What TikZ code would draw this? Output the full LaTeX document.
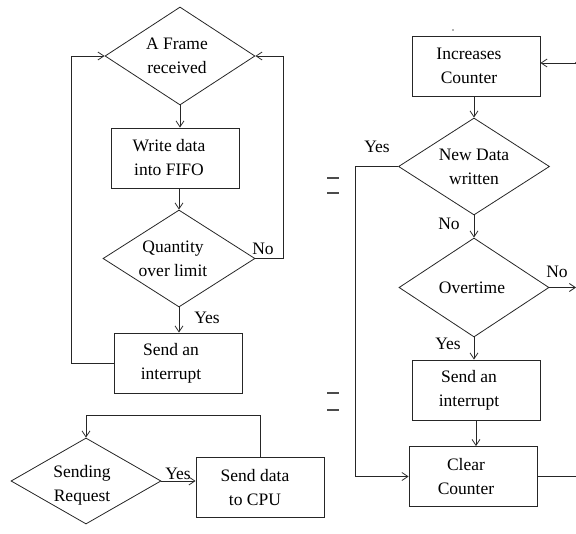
\documentclass[tikz,border=0pt]{standalone}
\usepackage{fontspec}
\setmainfont{Liberation Serif}
\usetikzlibrary{shapes.geometric,arrows.meta}
\begin{document}
\begin{tikzpicture}[x=1pt,y=-1pt,line width=0.8pt,color=black!85,
  txt/.style={align=center,text=black,font=\fontsize{17.5}{24}\selectfont,inner sep=0pt},
  box/.style={draw,rectangle,minimum width=128pt,minimum height=60pt,inner sep=0pt},
  dec/.style={draw,diamond,inner sep=0pt},
  arr/.style={-{Straight Barb[length=6pt,width=8pt]}},
  tick/.style={draw=black!70,line width=1.2pt}]
\useasboundingbox (0,0) rectangle (576,534);
\coordinate (rim) at (576,0);
\coordinate (yx) at (355,0);

% receive loop
\node[dec,minimum width=150pt,minimum height=98pt,
  label={[txt,xshift=-3pt]center:A Frame\\received}] (f1) at (180,56) {};
\node[box,label={[txt,xshift=-6pt]center:Write data\\into FIFO}] (w) at (175,158) {};
\node[dec,minimum width=152pt,minimum height=97pt,
  label={[txt,xshift=-6pt]center:Quantity\\over limit}] (q) at (179,258.5) {};
\node[box,label={[txt,xshift=-7pt]center:Send an\\interrupt}] (i1) at (178,363) {};

\draw[arr] (f1.south) -- (f1.south |- w.north);
\draw[arr] (q.north |- w.south) -- (q.north);
\draw[arr] (q.south) -- (q.south |- i1.north);
\draw[arr] (q.east) -- ++(28,0) |- (f1.east);
\draw[arr] (i1.west) -- ++(-42,0) |- (f1.west);
\node[txt] (noq) at (263,249) {No};
\node[txt] (yesq) at (207,318) {Yes};

% send loop
\node[dec,minimum width=150pt,minimum height=86pt,
  label={[txt,xshift=-4pt,yshift=-4pt]center:Sending\\Request}] (s) at (86,481) {};
\node[box,label={[txt,xshift=-5pt]center:Send data\\to CPU}] (cpu) at (260,487.5) {};
\draw[arr] (s.east) -- (s.east -| cpu.west);
\draw[arr] (cpu.north) -- ++(0,-42) -| (s.north);
\node[txt] (yess) at (178,474) {Yes};

% timeout counter
\node[box,label={[txt,xshift=-7pt]center:Increases\\Counter}] (inc) at (476,66) {};
\node[dec,minimum width=151pt,minimum height=97pt,
  label={[txt]center:New Data\\written}] (nd) at (474,166.5) {};
\node[dec,minimum width=150pt,minimum height=99pt,
  label={[txt,xshift=-2pt]center:Overtime}] (ov) at (474,287.5) {};
\node[box,label={[txt,xshift=-7pt]center:Send an\\interrupt}] (i2) at (476,390) {};
\node[box,label={[txt,xshift=-7pt]center:Clear\\Counter}] (clr) at (473,476.5) {};

\coordinate (inA) at (576,63);
\draw[arr] (inA) -- (inA -| inc.east);
\fill (inA) circle (1.2pt);
\draw[arr] (nd.north |- inc.south) -- (nd.north);
\draw[arr] (nd.south) -- (ov.north);
\draw[arr] (ov.east) -- (ov.east -| rim);
\draw[arr] (ov.south) -- (ov.south |- i2.north);
\draw[arr] (i2.south) -- (i2.south |- clr.north);
\draw[arr] (nd.west) -- (nd.west -| yx) |- (clr.west);
\draw (clr.east) -- (clr.east -| rim);
\node[txt] (yesnd) at (377,147) {Yes};
\node[txt] (nond) at (449,224) {No};
\node[txt] (noov) at (557,272) {No};
\node[txt] (yesov) at (448,344) {Yes};

% separator marks
\draw[tick] (327,178) -- (339,178);
\draw[tick] (327,193) -- (339,193);
\draw[tick] (327,393) -- (339,393);
\draw[tick] (327,410) -- (339,410);
\fill[black!60] (453,30) circle (0.9pt);
\end{tikzpicture}
\end{document}
